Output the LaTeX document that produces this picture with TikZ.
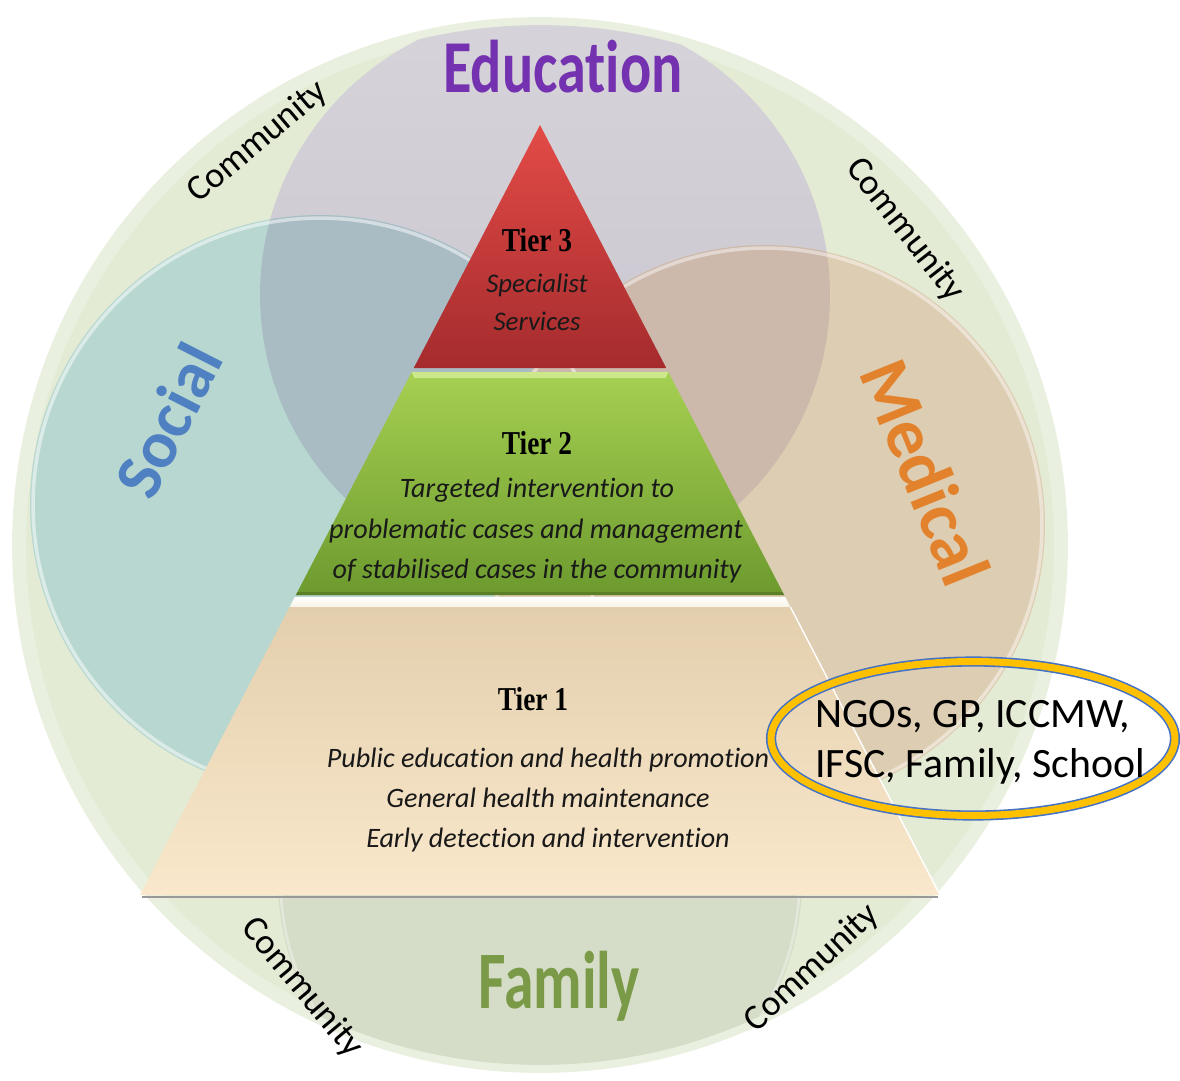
\documentclass[tikz,border=0pt]{standalone}
\usepackage{fontspec}
\setmainfont{Liberation Serif}
\newfontfamily\cali[Ligatures=NoCommon]{Carlito}
\usetikzlibrary{calc}
\newcommand\setfs[1]{\fontsize{#1pt}{#1pt}\selectfont}
\definecolor{bandOut}{HTML}{EAF0DF}
\definecolor{bandIn}{HTML}{E3EBD4}
\definecolor{educA}{HTML}{D7D3DA}
\definecolor{educB}{HTML}{C6C2CC}
\definecolor{soc}{HTML}{B8D7D0}
\definecolor{med}{HTML}{DDCDB2}
\definecolor{fam}{HTML}{D5DDC8}
\definecolor{ovSE}{HTML}{A9BCC4}
\definecolor{ovME}{HTML}{CCB9AC}
\definecolor{eduText}{HTML}{7431B0}
\definecolor{socText}{HTML}{4E80C2}
\definecolor{medText}{HTML}{E3822C}
\definecolor{famText}{HTML}{7A9A48}
\definecolor{tthreeA}{HTML}{E34B47}
\definecolor{tthreeB}{HTML}{A52B2D}
\definecolor{ttwoA}{HTML}{A6D052}
\definecolor{ttwoB}{HTML}{6C9A2E}
\definecolor{ttwoHi}{HTML}{CDE88A}
\definecolor{ttwoSh}{HTML}{4F6E22}
\definecolor{toneA}{HTML}{E3CFAD}
\definecolor{toneM}{HTML}{F5EDDC}
\definecolor{toneB}{HTML}{FAE8CC}
\definecolor{ngoBlue}{HTML}{4472C4}
\definecolor{ngoYellow}{HTML}{FFC000}
\begin{document}
\begin{tikzpicture}[x=0.02cm,y=-0.02cm,
  comm/.style={font=\cali\setfs{20.5}, inner sep=0, text=black},
  itl/.style={font=\cali\itshape\setfs{16}, inner sep=0, anchor=base, text=black!90},
  tierlab/.style={font=\bfseries\setfs{19}, inner sep=0, anchor=base, text=black},
  biglab/.style={font=\cali\bfseries, inner sep=0},
  ngotxt/.style={font=\cali\setfs{23.8}, inner sep=0, anchor=base west, text=black}]
\useasboundingbox (0,0) rectangle (1180,1080);
\fill[white] (0,0) rectangle (1180,1080);

% community circle
\fill[bandOut] (540,545) circle [radius=10.56cm];
\fill[bandIn] (540,545) circle [radius=10.28cm];

% domain circles
\begin{scope}
  \clip (540,545) circle [radius=10.4cm];
  \fill[fam] (540,880) circle [radius=5.24cm];
  \shade[top color=educA, bottom color=educB] (545,295) circle [radius=5.7cm];
  \fill[soc] (320,505) circle [radius=5.8cm];
  \fill[med] (765,525) circle [radius=5.6cm];
  \begin{scope}
    \clip (545,295) circle [radius=5.7cm];
    \fill[ovSE] (320,505) circle [radius=5.8cm];
    \fill[ovME] (765,525) circle [radius=5.6cm];
  \end{scope}
  \draw[white, opacity=0.5, line width=2pt] (320,505) circle [radius=5.74cm];
  \draw[white, opacity=0.45, line width=2pt] (765,525) circle [radius=5.54cm];
  \draw[white, opacity=0.35, line width=1.5pt] (540,880) circle [radius=5.19cm];
\end{scope}

% domain labels
\node[biglab, font=\cali\bfseries\setfs{42.5}, text=eduText, anchor=base] (education) at (563,92) {\scalebox{0.78}[1]{Education}};
\node[biglab, font=\cali\bfseries\setfs{38}, text=socText, rotate=63] (social) at (168,420) {Social};
\node[biglab, font=\cali\bfseries\setfs{40.5}, text=medText, rotate=-68] (medical) at (926,472) {Medical};
\node[biglab, font=\cali\bfseries\setfs{46.5}, text=famText, anchor=base] (family) at (559,1008) {\scalebox{0.73}[1]{Family}};

% community labels
\node[comm, rotate=40] (comm1) at (258,142) {Community};
\node[comm, rotate=-52] (comm2) at (905,230) {Community};
\node[comm, rotate=-50] (comm3) at (302,988) {Community};
\node[comm, rotate=43] (comm4) at (812,968) {Community};

% pyramid
\coordinate (apex) at (540,125);
\coordinate (bl) at (140,895);
\coordinate (br) at (940,895);
% tier 3
\shade[top color=tthreeA, bottom color=tthreeB]
  (apex) -- ($(apex)!0.3156!(br)$) -- ($(apex)!0.3156!(bl)$) -- cycle;
% tier 2
\shade[top color=ttwoA, bottom color=ttwoB]
  ($(apex)!0.3208!(bl)$) -- ($(apex)!0.3208!(br)$) -- ($(apex)!0.6104!(br)$) -- ($(apex)!0.6104!(bl)$) -- cycle;
\fill[ttwoHi]
  ($(apex)!0.3208!(bl)$) -- ($(apex)!0.3208!(br)$) -- ($(apex)!0.3288!(br)+(-6,0)$) -- ($(apex)!0.3288!(bl)+(6,0)$) -- cycle;
\fill[ttwoSh, opacity=0.6]
  ($(apex)!0.6065!(bl)$) -- ($(apex)!0.6065!(br)$) -- ($(apex)!0.6104!(br)$) -- ($(apex)!0.6104!(bl)$) -- cycle;
% separator
\shade[top color=white, bottom color=toneM!70!white]
  ($(apex)!0.6130!(bl)$) -- ($(apex)!0.6130!(br)$) -- ($(apex)!0.6260!(br)$) -- ($(apex)!0.6260!(bl)$) -- cycle;
% tier 1
\shade[top color=toneA, middle color=toneM, bottom color=toneB]
  ($(apex)!0.6260!(bl)$) -- ($(apex)!0.6260!(br)$) -- (br) -- (bl) -- cycle;
\draw[white, line width=0.8pt] ($(apex)!0.6260!(br)$) -- (br);
\draw[black!40, line width=1.2pt] ($(bl)+(2,2)$) -- ($(br)+(-2,2)$);

% tier texts
\node[tierlab] (t3) at (537,251) {\scalebox{0.82}[1]{Tier 3}};
\node[itl, font=\cali\itshape\setfs{15.3}] (t3a) at (537,292) {Specialist};
\node[itl, font=\cali\itshape\setfs{15.3}] (t3b) at (537,330) {Services};

\node[tierlab] (t2) at (537,454) {\scalebox{0.82}[1]{Tier 2}};
\node[itl] (t2a) at (537,497) {Targeted intervention to};
\node[itl] (t2b) at (536,538) {problematic cases and management};
\node[itl] (t2c) at (537,578) {of stabilised cases in the community};

\node[tierlab] (t1) at (533,710) {\scalebox{0.82}[1]{Tier 1}};
\node[itl] (t1a) at (548,767) {Public education and health promotion};
\node[itl] (t1b) at (548,807) {General health maintenance};
\node[itl] (t1c) at (548,847) {Early detection and intervention};

% NGO ellipse
\draw[ngoBlue, line width=0.9pt, double=ngoYellow, double distance=4pt]
  (973,738.5) ellipse [x radius=4.04cm, y radius=1.54cm];
\node[ngotxt] (ngo1) at (815,727) {NGOs, GP, ICCMW,};
\node[ngotxt] (ngo2) at (815,777) {IFSC, Family, School};
\end{tikzpicture}
\end{document}
